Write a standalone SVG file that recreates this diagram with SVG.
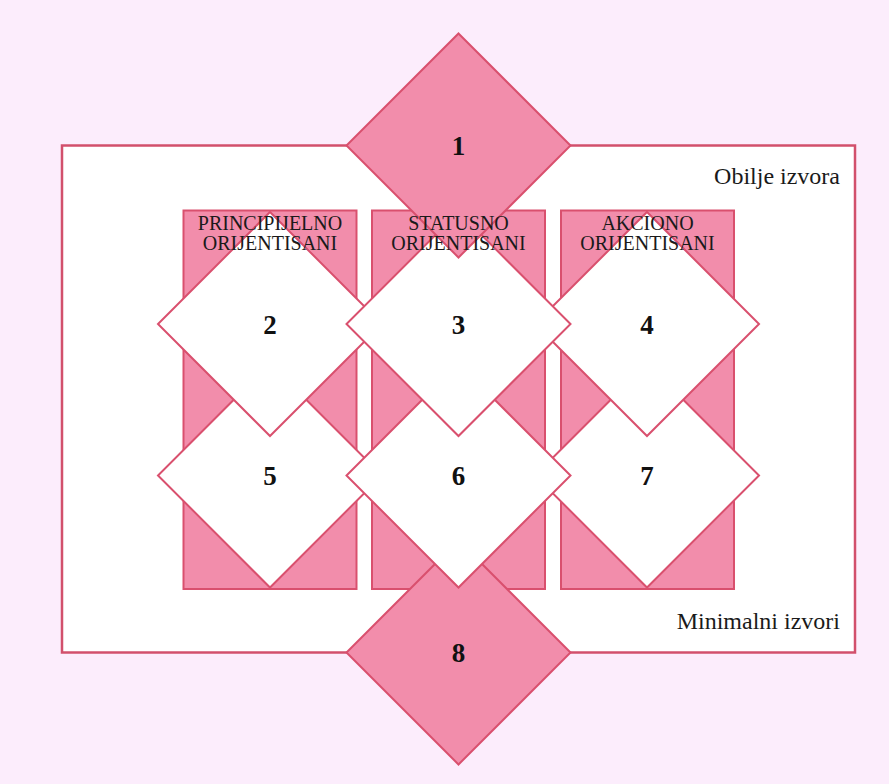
<svg xmlns="http://www.w3.org/2000/svg" width="889" height="784" viewBox="0 0 889 784">
<defs>
<style>
.bg{fill:#FCEDFC}
.frame{fill:#FFFFFF;stroke:#D2506C;stroke-width:2.5}
.col{fill:#F28DAB;stroke:#D9506E;stroke-width:2}
.dp{fill:#F28DAB;stroke:#D9506E;stroke-width:2;stroke-linejoin:miter}
.dw{fill:#FFFFFF;stroke:#D9506E;stroke-width:2;stroke-linejoin:miter}
.num{font-family:"Liberation Serif","Times New Roman",serif;font-weight:bold;font-size:27px;fill:#111;text-anchor:middle}
.hdr{font-family:"Liberation Serif","Times New Roman",serif;font-size:20px;fill:#1a1a1a;text-anchor:middle}
.lbl{font-family:"Liberation Serif","Times New Roman",serif;font-size:24px;fill:#1a1a1a;text-anchor:end}
</style>
<polygon id="dia" points="0,-112 112,0 0,112 -112,0"/>
</defs>
<rect class="bg" x="0" y="0" width="889" height="784"/>
<g id="frame">
<rect class="frame" x="62" y="145.5" width="793" height="507"/>
</g>
<g id="columns">
<rect id="col1" class="col" x="183.5" y="210.5" width="173" height="378.5"/>
<rect id="col2" class="col" x="372" y="210.5" width="173" height="378.5"/>
<rect id="col3" class="col" x="561" y="210.5" width="173" height="378.5"/>
</g>
<g id="connectors"></g>
<g id="node8"><use href="#dia" class="dp" x="458.5" y="652.5"/><text class="num" x="458.5" y="662">8</text></g>
<g id="node5"><use href="#dia" class="dw" x="270" y="475.5"/><text class="num" x="270" y="485">5</text></g>
<g id="node7"><use href="#dia" class="dw" x="647" y="475.5"/><text class="num" x="647" y="485">7</text></g>
<g id="node6"><use href="#dia" class="dw" x="458.5" y="475.5"/><text class="num" x="458.5" y="485">6</text></g>
<g id="node2"><use href="#dia" class="dw" x="270" y="324"/><text class="num" x="270" y="333.5">2</text></g>
<g id="node4"><use href="#dia" class="dw" x="647" y="324"/><text class="num" x="647" y="333.5">4</text></g>
<g id="node3"><use href="#dia" class="dw" x="458.5" y="324"/><text class="num" x="458.5" y="333.5">3</text></g>
<g id="node1"><use href="#dia" class="dp" x="458.5" y="145.5"/><text class="num" x="458.5" y="155">1</text></g>
<g id="headers">
<text class="hdr" x="270" y="230">PRINCIPIJELNO</text>
<text class="hdr" x="270" y="250">ORIJENTISANI</text>
<text class="hdr" x="458.5" y="230">STATUSNO</text>
<text class="hdr" x="458.5" y="250">ORIJENTISANI</text>
<text class="hdr" x="647.5" y="230">AKCIONO</text>
<text class="hdr" x="647.5" y="250">ORIJENTISANI</text>
</g>
<g id="labels">
<text class="lbl" x="840" y="184">Obilje izvora</text>
<text class="lbl" x="840" y="629">Minimalni izvori</text>
</g>
</svg>
